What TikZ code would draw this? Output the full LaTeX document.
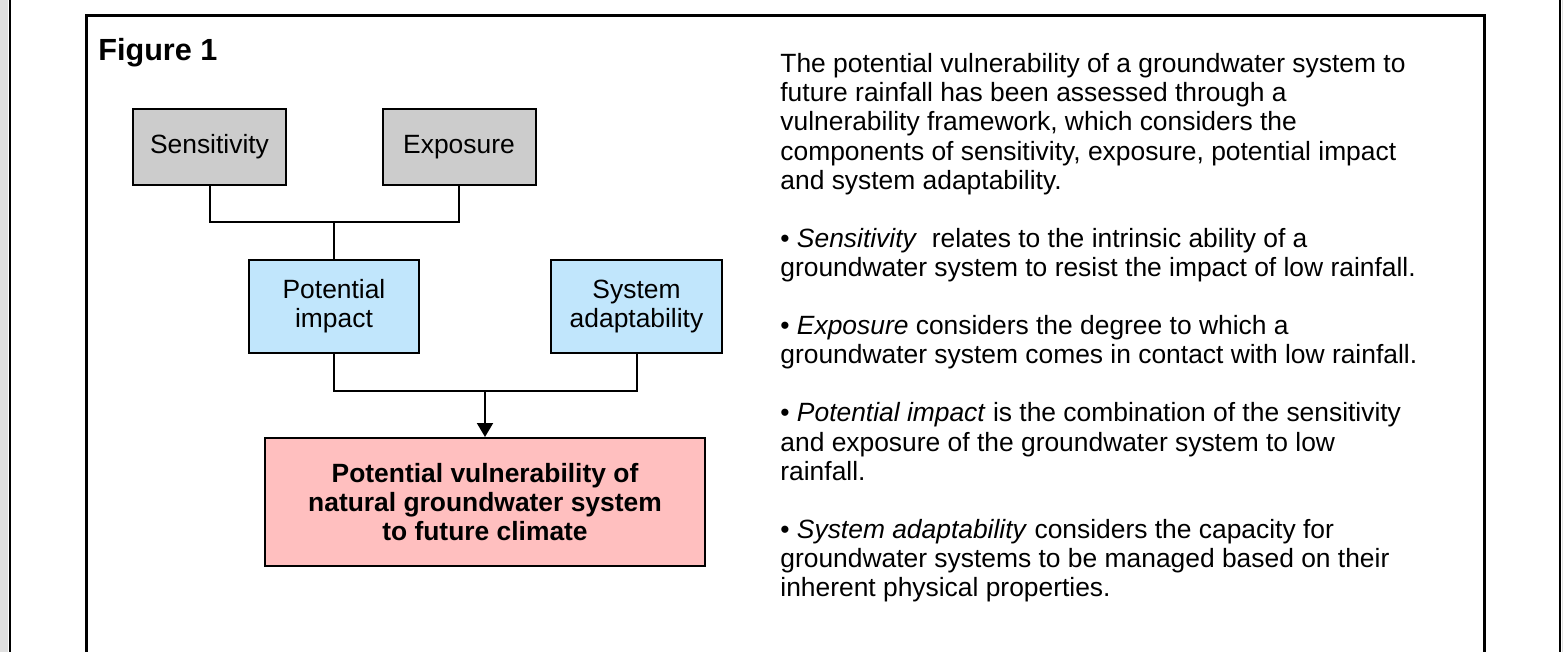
\documentclass[tikz,border=0pt]{standalone}
\usepackage{fontspec}
\setmainfont{Liberation Sans}
\usetikzlibrary{arrows.meta}

\definecolor{stripgray}{RGB}{224,224,224}
\definecolor{boxgray}{RGB}{204,204,204}
\definecolor{boxblue}{RGB}{193,230,252}
\definecolor{boxred}{RGB}{255,191,191}

\begin{document}
\begin{tikzpicture}[x=0.5pt,y=-0.5pt,
  comp/.style={draw=black,line width=1pt,align=center,inner sep=0pt,
    font=\fontsize{13.2}{14.6}\selectfont},
  link/.style={draw=black,line width=1pt},
  frame/.style={draw=black,line width=1.5pt}]

\useasboundingbox (0,0) rectangle (1563,652);

%page edges
\fill[stripgray] (0,0) rectangle (8,652);
\fill[stripgray] (1562,0) rectangle (1563,652);
\path[draw=black,line width=1.2pt] (10,0) -- (10,652);
\path[draw=black,line width=1.2pt] (1560,0) -- (1560,652);

%frame
\path[frame] (86,652) -- (86,16) -- (1484,16) -- (1484,652);

\node[anchor=base west,inner sep=0pt,font=\fontsize{15.3}{18}\selectfont\bfseries] (title) at (98,61) {Figure 1};

%top row
\node[comp,fill=boxgray,minimum width=76.5pt,minimum height=38pt] (sens) at (209.5,147) {Sensitivity};
\node[comp,fill=boxgray,minimum width=76.5pt,minimum height=38pt] (expo) at (459,147) {Exposure};

%middle row
\node[comp,fill=boxblue,minimum width=85pt,minimum height=46.5pt] (pimp) at (334,306.5) {Potential\\impact};
\node[comp,fill=boxblue,minimum width=85.5pt,minimum height=46.5pt] (adapt) at (636.5,306.5) {System\\adaptability};

%result
\node[comp,fill=boxred,minimum width=220pt,minimum height=64pt,font=\fontsize{13.2}{14.6}\selectfont\bfseries] (vuln) at (485,502) {Potential vulnerability of\\natural groundwater system\\to future climate};

%links
\coordinate (j1) at (334,222);
\coordinate (j2) at (485,391);
\path[link] (sens.south) |- (j1) -| (expo.south);
\path[link] (j1) -- (pimp.north);
\path[link] (pimp.south) |- (j2) -| (adapt.south);
\path[link,-{Triangle[length=7pt,width=8pt]}] (j2) -- (vuln.north);

%text
\node[anchor=north west,inner sep=0pt,align=left,font=\fontsize{13.2}{14.55}\selectfont] (notes) at (780,52) {\strut The potential vulnerability of a groundwater system to\\
future rainfall has been assessed through a\\
vulnerability framework, which considers the\\
components of sensitivity, exposure, potential impact\\
and system adaptability.\\[14.55pt]
• \textit{Sensitivity}\ \ relates to the intrinsic ability of a\\
groundwater system to resist the impact of low rainfall.\\[14.55pt]
• \textit{Exposure} considers the degree to which a\\
groundwater system comes in contact with low rainfall.\\[14.55pt]
• \textit{Potential impact} is the combination of the sensitivity\\
and exposure of the groundwater system to low\\
rainfall.\\[14.55pt]
• \textit{System adaptability} considers the capacity for\\
groundwater systems to be managed based on their\\
inherent physical properties.};

\end{tikzpicture}
\end{document}
